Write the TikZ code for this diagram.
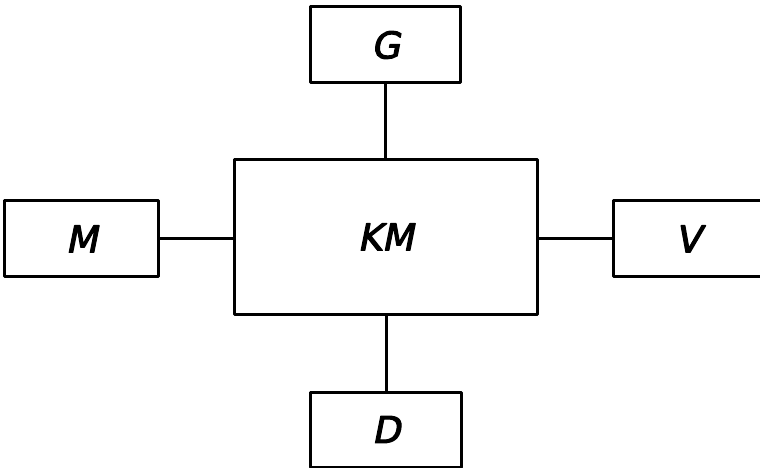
\documentclass[tikz,border=0pt]{standalone}
\usepackage{fontspec}
\setmainfont{DejaVu Sans}
\newfontfamily\lettering[FakeBold=3,FakeSlant=0.2]{DejaVu Sans}
\begin{document}
\begin{tikzpicture}[x=1bp,y=-1bp,
  blk/.style={draw, line width=3bp, line join=round, inner sep=0pt,
    font=\fontsize{37}{40}\lettering},
  wire/.style={line width=3bp}]
\useasboundingbox (0,0) rectangle (760,468);
\node[blk, minimum width=303bp, minimum height=154bp] (KM) at (385.5,237) {KM};
\node[blk, minimum width=150bp, minimum height=76bp] (G) at (385.5,45) {G};
\node[blk, minimum width=151bp, minimum height=75bp] (D) at (386,429.5) {D};
\node[blk, minimum width=153bp, minimum height=76bp] (M) at (81.5,239) {M};
\node[blk, minimum width=150bp, minimum height=76bp] (V) at (688,239) {V};
\draw[wire] (G.south) -- (G.south |- KM.north);
\draw[wire] (D.north) -- (D.north |- KM.south);
\draw[wire] (M.east) -- (M.east -| KM.west);
\draw[wire] (V.west) -- (V.west -| KM.east);
\end{tikzpicture}
\end{document}
